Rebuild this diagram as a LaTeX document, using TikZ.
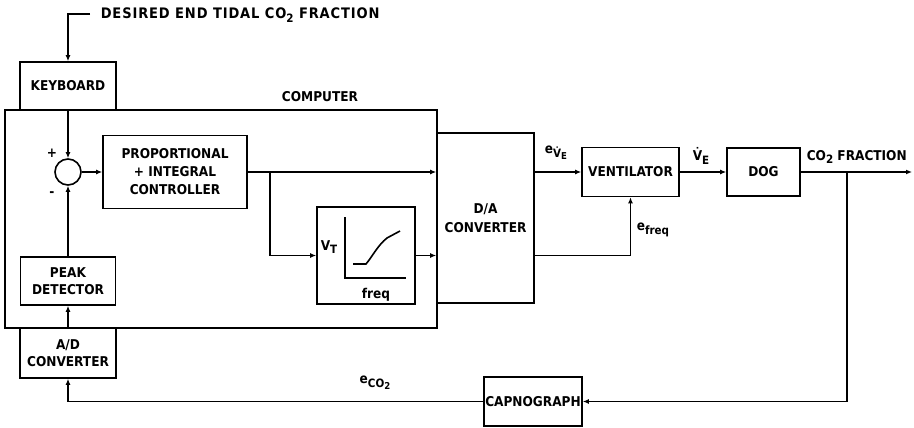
\documentclass[tikz,border=0pt]{standalone}
\usepackage{fontspec}
\setmainfont{DejaVu Sans Condensed}
\usetikzlibrary{arrows.meta,calc}
\newcommand\lsub[1]{\raisebox{-0.5ex}{\fontsize{11.5}{12}\selectfont #1}}
\newcommand\ssub[1]{\raisebox{-0.4ex}{\fontsize{9.5}{10}\selectfont #1}}
\begin{document}
\begin{tikzpicture}[x=1pt,y=-1pt, line width=1.6pt,
  >={Latex[length=6pt,width=5pt]},
  txt/.style={font=\fontsize{13.5}{16}\selectfont\bfseries, inner sep=0pt},
  blk/.style={draw, rectangle, inner sep=0pt, align=center, txt}]
\useasboundingbox (0,0) rectangle (914,428);
% boxes
\node[blk, minimum width=432pt, minimum height=218pt] (comp) at (221,219) {};
\node[txt] (complbl) at (320,97) {COMPUTER};
\node[blk, minimum width=96pt, minimum height=48pt] (kb) at (68,86) {KEYBOARD};
\node[draw, circle, minimum size=26pt, inner sep=0pt] (sum) at (68,172) {};
\node[blk, minimum width=144pt, minimum height=73pt] (pi) at (175,172) {PROPORTIONAL\\[2pt]+ INTEGRAL\\[2pt]CONTROLLER};
\node[blk, minimum width=98pt, minimum height=97pt] (vt) at (366,255.5) {};
\node[blk, minimum width=95pt, minimum height=48pt] (peak) at (68,281) {PEAK\\[1pt]DETECTOR};
\node[blk, minimum width=96pt, minimum height=50pt] (ad) at (68,353) {A/D\\[1pt]CONVERTER};
\node[blk, minimum width=97pt, minimum height=170pt] (da) at (485.5,218) {D/A\\[3pt]CONVERTER};
\node[blk, minimum width=97pt, minimum height=49pt] (vent) at (630.5,172) {VENTILATOR};
\node[blk, minimum width=73pt, minimum height=48pt] (dog) at (763.5,172) {DOG};
\node[blk, minimum width=98pt, minimum height=49pt] (cap) at (533,401.5) {CAPNOGRAPH};
% graph inside VT box
\node[txt] (vtl) at (329,247) {V\lsub{T}};
\node[txt] (freq) at (376,295) {freq};
\draw (345,217) -- (345,278) -- (406,278);
\draw (353,264) -- (366,264) .. controls (372,257) and (378,245) .. (387,238) -- (400,231);
% coordinates
\coordinate (des) at (90,14);
\coordinate (br) at (270,172);
\coordinate (br2) at (847,172);
\coordinate (out) at (912,172);
% text labels
\node[txt, anchor=west, font=\fontsize{14.5}{16}\selectfont\bfseries\addfontfeature{LetterSpace=6}] (destxt) at (100,15) {DESIRED END TIDAL CO\lsub{2} FRACTION};
\node[txt] (plus) at (52,153) {+};
\node[txt] (minus) at (52,194) {-};
\node[txt] (ev) at (556,153) {e\lsub{\.{V}\ssub{E}}};
\node[txt] (vel) at (701,156) {\.{V}\lsub{E}};
\node[txt, anchor=west] (ef) at (636,230) {e\lsub{freq}};
\node[txt, anchor=west] (co2) at (806,157) {CO\lsub{2} FRACTION};
\node[txt] (eco) at (375,383) {e\lsub{CO\ssub{2}}};
% connectors
\draw[->] (des) -| (kb.north);
\draw[->] (kb.south) -- (sum.north);
\draw[->] (sum.east) -- (pi.west);
\draw[->] (pi.east) -- (pi.east -| da.west);
\draw[->] (br) |- (vt.west);
\draw[->] (vt.east) -- (vt.east -| da.west);
\draw[->] (peak.north) -- (sum.south);
\draw[->] (ad.north) -- (peak.south);
\draw[->] (da.east |- vent.west) -- (vent.west);
\draw[->] (da.east |- vt.east) -| (vent.south);
\draw[->] (vent.east) -- (dog.west);
\draw[->] (dog.east) -- (out);
\draw[->] (br2) |- (cap.east);
\draw[->] (cap.west) -| (ad.south);
\end{tikzpicture}
\end{document}
